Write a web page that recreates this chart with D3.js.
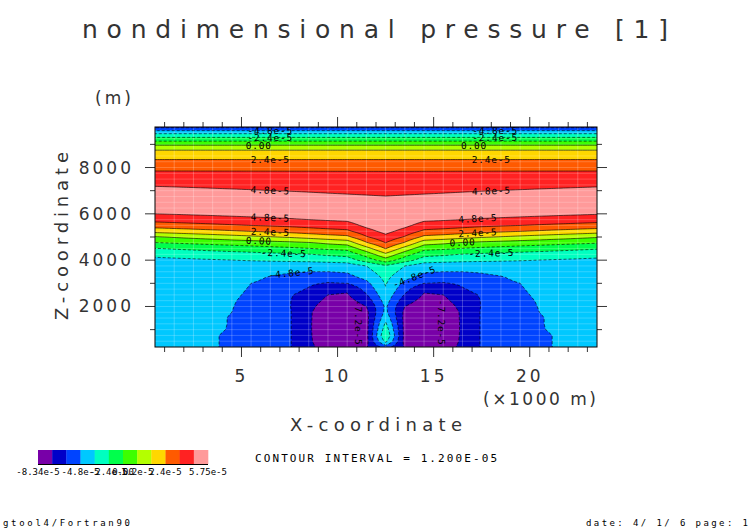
<!DOCTYPE html>
<html>
<head>
<meta charset="utf-8">
<script src="https://cdn.jsdelivr.net/npm/d3@7"></script>
<style>
  body { margin: 0; background: #fff; }
  text { font-family: "DejaVu Sans", sans-serif; fill: #333; }
  .mono { font-family: "DejaVu Sans Mono", monospace; fill: #000; }
</style>
</head>
<body>
<div id="chart"></div>
<script>
// values in units of 1e-5
const levels = [-7.2, -6.0, -4.8, -3.6, -2.4, -1.2, 0, 1.2, 2.4, 3.6, 4.8];
const colors = ["#7800a8", "#0000c8", "#0044ff", "#00c8ff", "#00ffc0", "#00ff4c",
                "#3cff00", "#b4ff00", "#ffd700", "#ff5a00", "#ff2222", "#ff9a9a"];
const legendLabels = [[0, "-8.34e-5"], [3, "-4.8e-5"], [5, "-2.4e-5"], [6, "0.00"], [7, "1.2e-5"], [9, "2.4e-5"], [12, "5.75e-5"]];

// left-edge vertical profile, z = 250 .. 9750 step 250
const profile = [-4.3, -4.3, -4.3, -4.25, -4.25, -4.2, -4.2, -4.2, -4.2, -4.15, -4.15, -4.1, -4.1, -4.05, -4.0,
  -3.9, -3.3, -2.45, -1.25, -0.1, 1.6, 3.0, 4.0, 4.8, 5.4, 5.75, 5.5, 5.1, 4.7, 4.25, 3.8, 3.3, 2.65, 2.0, 1.2,
  -0.2, -2.0, -3.9, -6.3];

// downward displacement (m) of the layers, half domain x = 0.5 .. 12.5 (mirrored about 12.5)
const dipLower = [0, 30, 60, 90, 120, 150, 180, 210, 250, 300, 340, 620, 900];
const dipUpper = [0, 30, 60, 90, 120, 150, 180, 210, 250, 290, 330, 360, 390];

// lower region, rows z = 250 .. 3750, cols x = 0.5 .. 12.5
const lowGrid = [
  [-4.3, -4.3, -4.4, -4.7, -5.0, -5.4, -5.7, -5.9, -6.9, -7.8, -8.0, -7.3, -5.5],
  [-4.3, -4.3, -4.4, -4.7, -5.0, -5.4, -5.7, -5.9, -7.0, -8.0, -8.2, -7.6, -3.2],
  [-4.3, -4.3, -4.4, -4.7, -5.0, -5.4, -5.7, -5.9, -7.0, -8.2, -8.3, -7.6, -2.4],
  [-4.2, -4.3, -4.4, -4.6, -4.9, -5.4, -5.7, -5.9, -7.0, -8.3, -8.34, -7.6, -2.9],
  [-4.2, -4.3, -4.3, -4.5, -4.9, -5.4, -5.7, -5.9, -7.0, -8.3, -8.3, -7.6, -3.4],
  [-4.2, -4.2, -4.3, -4.5, -4.9, -5.4, -5.7, -5.9, -7.0, -8.2, -8.3, -7.6, -4.0],
  [-4.2, -4.2, -4.3, -4.5, -4.8, -5.3, -5.6, -5.9, -7.0, -8.1, -8.1, -7.5, -4.5],
  [-4.2, -4.2, -4.3, -4.4, -4.75, -5.2, -5.6, -5.95, -6.8, -7.9, -7.9, -7.2, -4.6],
  [-4.2, -4.2, -4.3, -4.4, -4.7, -5.1, -5.5, -5.95, -6.6, -7.5, -7.6, -6.7, -4.3],
  [-4.2, -4.2, -4.2, -4.3, -4.6, -5.0, -5.4, -5.9, -6.4, -7.2, -7.3, -6.1, -4.0],
  [-4.2, -4.2, -4.2, -4.3, -4.5, -4.9, -5.3, -5.6, -6.1, -6.9, -7.0, -5.6, -3.7],
  [-4.2, -4.2, -4.2, -4.3, -4.4, -4.8, -5.1, -5.4, -5.8, -6.1, -6.0, -5.1, -3.5],
  [-4.1, -4.1, -4.1, -4.2, -4.3, -4.5, -4.9, -5.1, -5.3, -5.4, -5.2, -4.5, -3.3],
  [-4.1, -4.1, -4.1, -4.1, -4.2, -4.3, -4.5, -4.7, -4.8, -4.8, -4.7, -4.0, -3.0],
  [-4.0, -4.0, -4.0, -4.0, -4.0, -4.1, -4.2, -4.3, -4.4, -4.4, -4.3, -3.6, -2.6]
];

// contour labels: level, text, x (km) and z search range; fixed ones have x and z
const labels = [
  { v: -4.8, t: "-4.8e-5", x: 6.5, zr: [9000, 9750] }, { v: -4.8, t: "-4.8e-5", x: 18.2, zr: [9000, 9750] },
  { v: -2.4, t: "-2.4e-5", x: 6.5, zr: [9000, 9750] }, { v: -2.4, t: "-2.4e-5", x: 18.2, zr: [9000, 9750] },
  { v: 0, t: "0.00", x: 5.9, zr: [8000, 9750] }, { v: 0, t: "0.00", x: 17.1, zr: [8000, 9750] },
  { v: 2.4, t: "2.4e-5", x: 6.5, zr: [8000, 9000] }, { v: 2.4, t: "2.4e-5", x: 18.0, zr: [8000, 9000] },
  { v: 4.8, t: "4.8e-5", x: 6.5, zr: [6500, 8000] }, { v: 4.8, t: "4.8e-5", x: 18.0, zr: [6500, 8000] },
  { v: 4.8, t: "4.8e-5", x: 6.5, zr: [5000, 6500] }, { v: 4.8, t: "4.8e-5", x: 17.3, zr: [5000, 6500] },
  { v: 2.4, t: "2.4e-5", x: 6.5, zr: [4500, 6000] }, { v: 2.4, t: "2.4e-5", x: 17.3, zr: [4500, 6000] },
  { v: 0, t: "0.00", x: 5.9, zr: [4500, 6000] }, { v: 0, t: "0.00", x: 16.5, zr: [4000, 6000] },
  { v: -2.4, t: "-2.4e-5", x: 7.2, zr: [4000, 5000] }, { v: -2.4, t: "-2.4e-5", x: 18.0, zr: [4000, 5000] },
  { v: -4.8, t: "-4.8e-5", x: 7.6, zr: [2500, 3750] }, { v: -4.8, t: "-4.8e-5", x: 14.0, zr: [2000, 3750] },
  { t: "-7.2e-5", x: 11.1, z: 1300, vert: true },
  { t: "-7.2e-5", x: 15.4, z: 1300, vert: true }
];

const width = 752, height = 532;
const x = d3.scaleLinear().domain([0.5, 23.5]).range([155, 597]);
const y = d3.scaleLinear().domain([250, 9750]).range([347, 127]);

// build coarse field (24 x 39)
const nx = 24, nz = 39;
function prof(z) {
  const g = Math.max(0, Math.min(nz - 1, (z - 250) / 250));
  const i = Math.min(nz - 2, Math.floor(g)), f = g - i;
  return profile[i] * (1 - f) + profile[i + 1] * f;
}
function wLow(z) { return z <= 6000 ? 1 : z >= 6800 ? 0 : (6800 - z) / 800; }
function wUp(z) {
  if (z < 6000) return 0;
  if (z < 6800) return (z - 6000) / 800;
  if (z <= 7000) return 1;
  if (z >= 7800) return 0;
  return (7800 - z) / 800;
}
const coarse = [];
for (let r = 0; r < nz; r++) {
  const z = 250 + 250 * r, row = [];
  for (let j = 0; j < nx; j++) {
    const h = Math.min(j, 24 - j);
    if (z < 4000) row.push(lowGrid[r][h]);
    else row.push(prof(z + dipLower[h] * wLow(z) + dipUpper[h] * wUp(z)));
  }
  coarse.push(row);
}
function sample(xv, zv) {
  const gx = Math.max(0, Math.min(nx - 1, xv - 0.5)), gz = Math.max(0, Math.min(nz - 1, (zv - 250) / 250));
  const i = Math.min(nx - 2, Math.floor(gx)), k = Math.min(nz - 2, Math.floor(gz));
  const fx = gx - i, fz = gz - k;
  return coarse[k][i] * (1 - fx) * (1 - fz) + coarse[k][i + 1] * fx * (1 - fz)
       + coarse[k + 1][i] * (1 - fx) * fz + coarse[k + 1][i + 1] * fx * fz;
}
// fine grid for smoother contours
const dx = 0.125, dz = 62.5;
const fnx = Math.round(23 / dx) + 1, fnz = Math.round(9500 / dz) + 1;
const fine = new Array(fnx * fnz);
for (let r = 0; r < fnz; r++)
  for (let c = 0; c < fnx; c++) fine[r * fnx + c] = sample(0.5 + c * dx, 250 + r * dz);

const proj = d3.geoTransform({
  point: function (gx, gz) {
    this.stream.point(x(0.5 + (gx - 0.5) * dx), y(250 + (gz - 0.5) * dz));
  }
});
const path = d3.geoPath(proj);

const svg = d3.select("#chart").append("svg").attr("width", width).attr("height", height);
svg.append("defs").append("clipPath").attr("id", "clip")
  .append("rect").attr("x", 155).attr("y", 127).attr("width", 442).attr("height", 220);

const plot = svg.append("g").attr("clip-path", "url(#clip)");
plot.append("rect").attr("x", 155).attr("y", 127).attr("width", 442).attr("height", 220).attr("fill", colors[0]);

const contours = d3.contours().size([fnx, fnz]).thresholds(levels)(fine);
plot.selectAll("path.fill").data(contours).join("path")
  .attr("class", "fill").attr("d", path)
  .attr("fill", (d, i) => colors[i + 1]);

// faint grid
for (let gx = 0.5; gx <= 23.5; gx += 1)
  plot.append("line").attr("x1", x(gx)).attr("x2", x(gx)).attr("y1", 127).attr("y2", 347)
    .attr("stroke", "#fff").attr("stroke-opacity", 0.3).attr("stroke-width", 0.8);
for (let gz = 250; gz <= 9750; gz += 250)
  plot.append("line").attr("x1", 155).attr("x2", 597).attr("y1", y(gz)).attr("y2", y(gz))
    .attr("stroke", "#fff").attr("stroke-opacity", 0.25).attr("stroke-width", 0.8);

plot.selectAll("path.line").data(contours).join("path")
  .attr("class", "line").attr("d", path)
  .attr("fill", "none").attr("stroke", "#000").attr("stroke-width", 0.6)
  .attr("stroke-dasharray", d => d.value < 0 ? "3,2" : null);

// labels
function crossCol(v, xv, zr) {
  for (let z = zr[1]; z > zr[0]; z -= 5) {
    const a = sample(xv, z), b = sample(xv, z - 5);
    if ((a - v) * (b - v) <= 0 && a !== b) return z - 5 * (a - v) / (a - b);
  }
  return null;
}
labels.forEach(l => {
  let px, py, ang = 0;
  if (l.vert) {
    px = x(l.x); py = y(l.z); ang = 90;
  } else {
    const zv = crossCol(l.v, l.x, l.zr);
    if (zv == null) return;
    const z1 = crossCol(l.v, l.x - 0.4, [zv - 800, zv + 800]) ?? zv;
    const z2 = crossCol(l.v, l.x + 0.4, [zv - 800, zv + 800]) ?? zv;
    px = x(l.x); py = y(zv);
    ang = Math.atan2(y(z2) - y(z1), x(l.x + 0.4) - x(l.x - 0.4)) * 180 / Math.PI;
  }
  plot.append("text").attr("class", "mono")
    .attr("transform", `translate(${px},${py}) rotate(${ang})`)
    .attr("text-anchor", "middle").attr("dy", "0.35em")
    .attr("font-size", 9.5).attr("letter-spacing", 0.8).text(l.t);
});

// frame and ticks
svg.append("rect").attr("x", 155).attr("y", 127).attr("width", 442).attr("height", 220)
  .attr("fill", "none").attr("stroke", "#000").attr("stroke-width", 1);
const g = svg.append("g").attr("stroke", "#000").attr("stroke-width", 0.8);
for (let t = 1; t <= 23; t++) {
  const len = t % 5 === 0 ? 10 : 5;
  g.append("line").attr("x1", x(t)).attr("x2", x(t)).attr("y1", 347).attr("y2", 347 + len);
  g.append("line").attr("x1", x(t)).attr("x2", x(t)).attr("y1", 127).attr("y2", 127 - len);
}
for (let t = 1000; t <= 9000; t += 1000) {
  const len = t % 2000 === 0 ? 10 : 5;
  g.append("line").attr("x1", 155).attr("x2", 155 - len).attr("y1", y(t)).attr("y2", y(t));
  g.append("line").attr("x1", 597).attr("x2", 597 + len).attr("y1", y(t)).attr("y2", y(t));
}

// tick labels
[5, 10, 15, 20].forEach(t => svg.append("text").attr("x", x(t)).attr("y", 382)
  .attr("text-anchor", "middle").attr("font-size", 17).attr("letter-spacing", 3).text(t));
[2000, 4000, 6000, 8000].forEach(t => svg.append("text").attr("x", 134).attr("y", y(t) + 6)
  .attr("text-anchor", "end").attr("font-size", 17).attr("letter-spacing", 3).text(t));

// titles
svg.append("text").attr("x", 82).attr("y", 38).attr("font-size", 25)
  .attr("textLength", 586).attr("lengthAdjust", "spacing").text("nondimensional pressure [1]");
svg.append("text").attr("x", 95).attr("y", 104).attr("font-size", 17)
  .attr("textLength", 36).attr("lengthAdjust", "spacing").text("(m)");
svg.append("text").attr("transform", "translate(68,320) rotate(-90)").attr("font-size", 18)
  .attr("textLength", 168).attr("lengthAdjust", "spacing").text("Z-coordinate");
svg.append("text").attr("x", 290).attr("y", 431).attr("font-size", 18)
  .attr("textLength", 172).attr("lengthAdjust", "spacing").text("X-coordinate");
svg.append("text").attr("x", 483).attr("y", 405).attr("font-size", 17)
  .attr("textLength", 113).attr("lengthAdjust", "spacing").text("(×1000 m)");

// legend
const lx = d3.scaleLinear().domain([0, 12]).range([38, 208]);
svg.selectAll("rect.leg").data(colors).join("rect").attr("class", "leg")
  .attr("x", (d, i) => lx(i)).attr("y", 450).attr("width", lx(1) - lx(0) + 0.3).attr("height", 14)
  .attr("fill", d => d);
svg.append("line").attr("x1", 38).attr("x2", 208).attr("y1", 464.5).attr("y2", 464.5)
  .attr("stroke", "#000").attr("stroke-width", 1);
legendLabels.forEach(([i, t]) => svg.append("text").attr("class", "mono")
  .attr("x", lx(i)).attr("y", 475).attr("text-anchor", "middle").attr("font-size", 9).text(t));

svg.append("text").attr("class", "mono").attr("x", 255).attr("y", 462).attr("font-size", 11)
  .attr("textLength", 242).attr("lengthAdjust", "spacing").text("CONTOUR INTERVAL = 1.200E-05");
svg.append("text").attr("class", "mono").attr("x", 3).attr("y", 526).attr("font-size", 9)
  .attr("textLength", 127).attr("lengthAdjust", "spacing").text("gtool4/Fortran90");
svg.append("text").attr("class", "mono").attr("x", 586).attr("y", 526).attr("font-size", 9)
  .attr("textLength", 162).attr("lengthAdjust", "spacing").text("date: 4/ 1/ 6 page: 1");
</script>
</body>
</html>
